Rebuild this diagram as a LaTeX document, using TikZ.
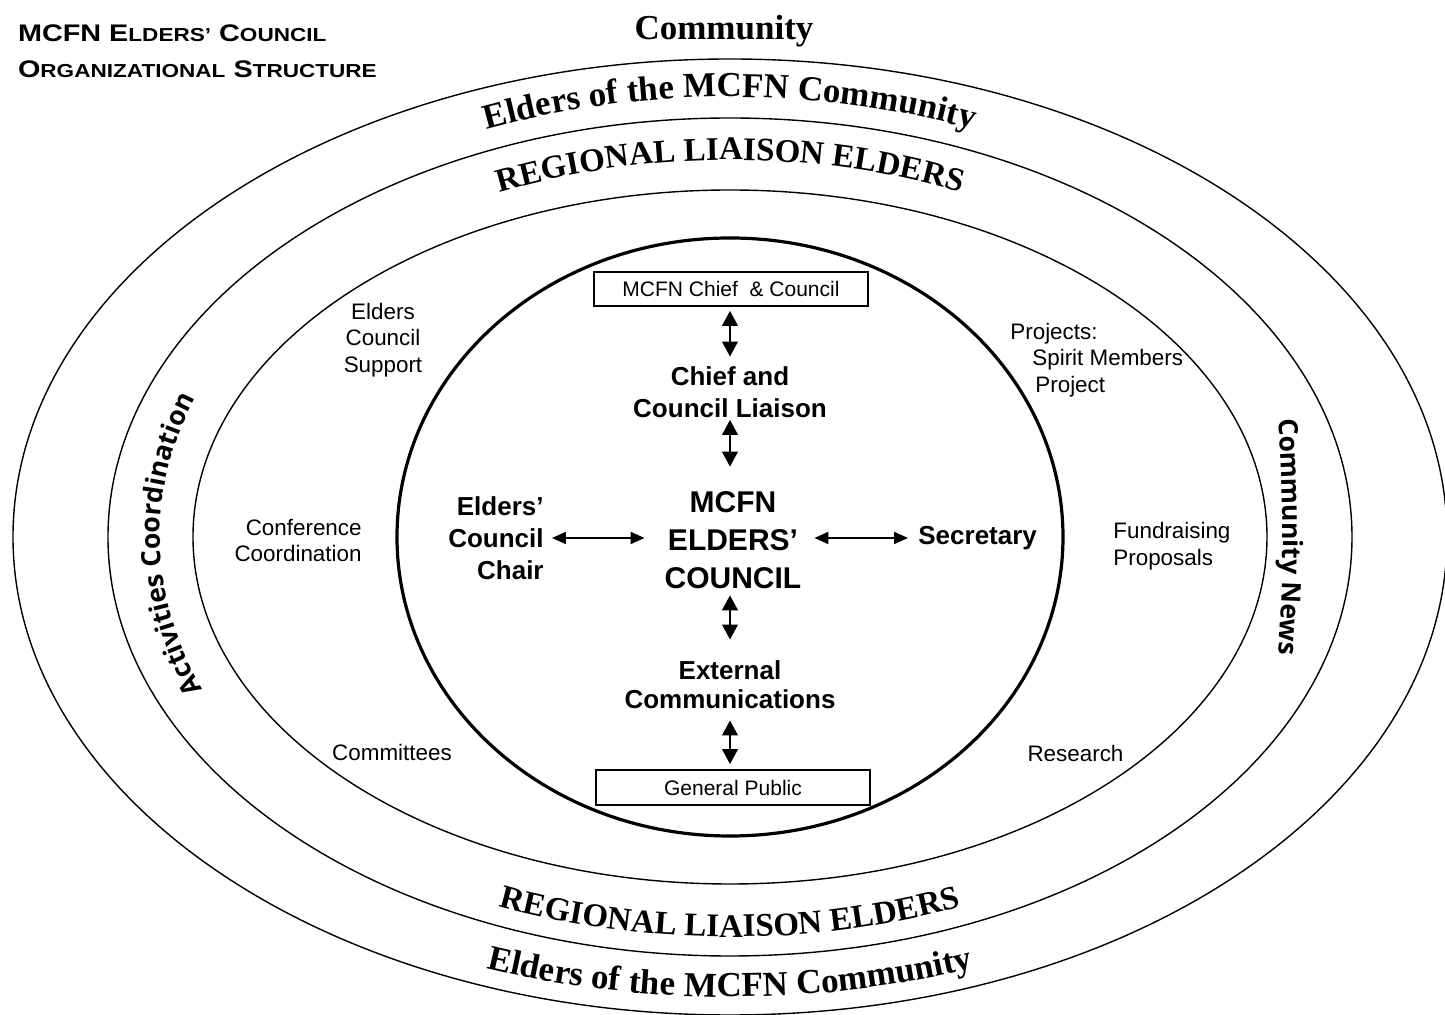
\documentclass[tikz,border=0pt]{standalone}
\usepackage{fontspec}
\setmainfont{Liberation Sans}
\newfontfamily\headfont{Liberation Sans}[FakeStretch=1.2]
\newfontfamily\wordartfont{Liberation Serif}
\newfontfamily\bandfont{Open Sans}
\usetikzlibrary{arrows.meta,decorations.text}

\newcommand\arcfont{\wordartfont\bfseries\fontsize{17.5}{20}\selectfont}
\newcommand\bandtext{\bandfont\bfseries\fontsize{13.3}{16}\selectfont}
\newcommand\smallcaps[1]{{\fontsize{9.4}{11}\selectfont #1}}

\tikzset{
  ring/.style={line width=0.7pt},
  core/.style={line width=1.6pt},
  namebox/.style={draw,line width=0.9pt,inner sep=0pt,minimum width=137pt,minimum height=17pt,font=\fontsize{10.5}{12}\selectfont},
  role/.style={inner sep=0pt,align=center,font=\bfseries\fontsize{13}{16}\selectfont},
  task/.style={inner sep=0pt,align=center,font=\fontsize{11.2}{13.25}\selectfont},
  twoway/.style={{Triangle[width=7.8pt,length=7.5pt]}-{Triangle[width=7.8pt,length=7.5pt]},line width=1.1pt},
  sideway/.style={{Triangle[width=6pt,length=7pt]}-{Triangle[width=6pt,length=7pt]},line width=1pt},
  bend text/.style={decorate,decoration={text along path,text align=center,text={#1}}}
}

\begin{document}
\begin{tikzpicture}[x=0.5pt,y=0.5pt]
	\useasboundingbox (-730,-478) rectangle (715,537);
	% rings
	\draw[ring] (0,0) ellipse [x radius=717,y radius=478];
	\draw[ring] (0,0) ellipse [x radius=622,y radius=419];
	\draw[ring] (0,0) ellipse [x radius=537,y radius=347];
	\draw[core] (0,0) ellipse [x radius=333,y radius=299];
	% heading
	\node (title) at (-719,495)[anchor=base west,font=\headfont\bfseries\fontsize{12}{14}\selectfont] {MCFN E\smallcaps{LDERS’} C\smallcaps{OUNCIL}};
	\node (subtitle) at (-719,459)[anchor=base west,font=\headfont\bfseries\fontsize{12}{14}\selectfont] {O\smallcaps{RGANIZATIONAL} S\smallcaps{TRUCTURE}};
	\node (community) at (-6,497)[anchor=base,font=\arcfont] {Community};
	% ring texts
	\path[bend text={|\arcfont|Elders of the MCFN Community}] (145:645 and 440) arc [start angle=145,end angle=35,x radius=645,y radius=440];
	\path[bend text={|\arcfont\fontsize{16.5}{19}\selectfont|REGIONAL LIAISON ELDERS}] (145:568 and 377) arc [start angle=145,end angle=35,x radius=568,y radius=377];
	\path[bend text={|\arcfont\fontsize{16.5}{19}\selectfont|REGIONAL LIAISON ELDERS}] (215:603 and 400) arc [start angle=215,end angle=325,x radius=603,y radius=400];
	\path[bend text={|\arcfont|Elders of the MCFN Community}] (215:699 and 460) arc [start angle=215,end angle=325,x radius=699,y radius=460];
	\path[bend text={|\bandtext|Activities Coordination}] (209:570 and 400) arc [start angle=209,end angle=153,x radius=570,y radius=400];
	\path[bend text={|\bandtext|Community News}] (14:553 and 900) arc [start angle=14,end angle=-14,x radius=553,y radius=900];
	% council
	\node (chief) at (1,248)[namebox] {MCFN Chief\ \ \& Council};
	\node (liaison) at (0,145)[role] {Chief and\\Council Liaison};
	\node (centre) at (3,-3.5)[role,font=\bfseries\fontsize{15}{19}\selectfont] {MCFN\\ELDERS'\\COUNCIL};
	\node (chair) at (-186,-1)[role,anchor=east,align=right] {Elders'\\Council\\Chair};
	\node (secretary) at (188,-8)[role,anchor=base west] {Secretary};
	\node (external) at (0,-147.5)[role,font=\bfseries\fontsize{13}{14.5}\selectfont] {External\\Communications};
	\node (public) at (3,-250.5)[namebox,minimum height=17.5pt] {General Public};
	\draw[twoway,shorten <=4.75pt,shorten >=2pt] (liaison.north) -- (liaison.north |- chief.south);
	\draw[twoway,shorten <=1pt,shorten >=12.4pt] (liaison.south) -- (liaison.south |- centre.north);
	\draw[twoway,shorten <=2.9pt,shorten >=10.25pt] (external.north |- centre.south) -- (external.north);
	\draw[twoway,shorten <=5.75pt,shorten >=2.5pt] (external.south) -- (external.south |- public.north);
	\draw[sideway,shorten <=4pt,shorten >=9.85pt] (chair.east) -- (chair.east -| centre.west);
	\draw[sideway,shorten <=6.35pt,shorten >=5pt] (centre.east |- chair.east) -- (secretary.west |- chair.east);
	% tasks
	\node (support) at (-347,197)[task] {Elders\\Council\\Support};
	\node (conference) at (-368,-3.5)[task,anchor=east,align=right] {Conference\\Coordination};
	\node (committees) at (-338,-215)[task] {Committees};
	\node (projects) at (280,177)[task,anchor=west,align=left] {Projects:\\\hspace*{11pt}Spirit Members\\\hspace*{12.5pt}Project};
	\node (fundraising) at (383,-9)[task,anchor=west,align=left] {Fundraising\\Proposals};
	\node (research) at (345.5,-216)[task] {Research};
\end{tikzpicture}
\end{document}
